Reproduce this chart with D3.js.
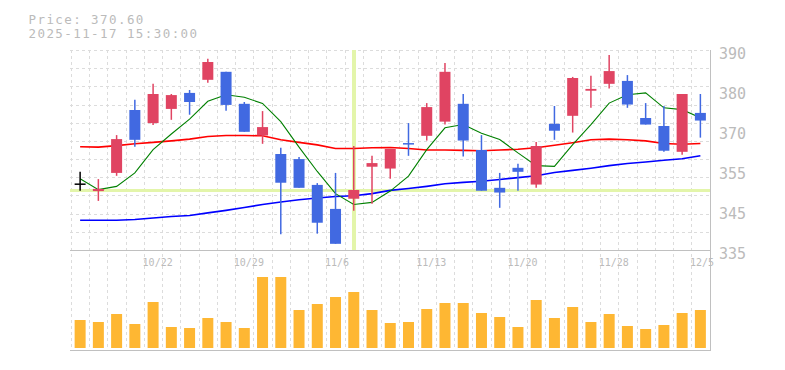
<!DOCTYPE html>
<html><head><meta charset="utf-8">
<script src="https://cdn.jsdelivr.net/npm/d3@7/dist/d3.min.js"></script>
<style>
html,body{margin:0;padding:0;background:#fff;}
svg{display:block;}
</style></head><body>
<svg id="chart" width="785" height="370"></svg>
<script>
// ---- data ----
const dates = ["10/16","10/17","10/20","10/21","10/22","10/23","10/24","10/27","10/28","10/29","10/30","10/31",
  "11/4","11/5","11/6","11/7","11/10","11/11","11/12","11/13","11/14","11/17","11/18","11/19","11/20","11/21",
  "11/25","11/26","11/27","11/28","12/1","12/2","12/3","12/4","12/5"];
const openP  = [353.1,351.2,356.2,373.5,369.9,373.8,378.2,381.8,384.0,375.2,366.5,361.4,360.0,352.9,346.3,349.1,357.9,357.4,364.2,366.4,370.3,375.2,362.5,352.1,357.6,353.0,369.7,371.9,378.8,380.7,381.5,371.3,369.1,362.0,372.7];
const highP  = [356.5,354.5,366.6,376.3,380.7,377.9,379.0,387.6,384.0,375.7,373.2,363.1,360.6,353.4,356.2,363.6,360.9,362.8,369.9,375.4,386.4,377.9,366.6,356.2,358.7,364.7,374.6,382.6,382.9,388.6,383.1,375.4,374.6,377.9,377.9];
const lowP   = [351.3,348.5,355.4,363.4,369.4,370.8,372.2,381.0,373.3,367.5,364.2,339.3,352.1,339.5,336.7,345.8,347.7,354.6,360.9,365.1,369.5,360.7,351.3,346.6,351.3,352.1,365.3,367.3,374.1,379.4,374.1,369.5,362.0,361.2,365.9];
const closeP = [353.1,351.8,365.5,365.3,377.9,377.6,375.7,386.7,374.9,367.5,368.8,353.5,352.1,342.5,336.7,351.5,358.9,362.8,363.9,374.3,384.0,365.1,351.3,350.8,356.5,363.6,367.8,382.3,379.3,384.2,375.0,369.5,362.3,377.9,370.6];
const volume = [28,26,34,24,46,21,20,30,26,20,71,71,38,44,51,56,38,25,26,39,45,45,35,31,21,48,30,41,26,34,22,19,23,35,38];
const ma5  = [354.6,351.6,352.5,356.2,362.6,366.9,371.0,375.9,377.7,377.0,375.3,370.3,363.3,356.6,350.5,347.5,348.1,351.2,355.3,362.6,368.6,369.5,367.1,365.4,361.7,358.2,358.0,364.0,369.5,375.4,377.7,378.2,374.1,373.6,371.4];
const ma25 = [363.4,363.3,363.7,364.2,364.6,365.0,365.5,366.2,366.5,366.5,366.4,365.3,364.6,363.9,362.9,362.9,363.1,363.2,362.9,362.5,362.5,362.4,362.3,362.5,362.7,363.1,363.8,364.5,365.3,365.5,365.3,365.0,364.3,364.1,364.3];
const ma75 = [343.2,343.2,343.2,343.4,343.8,344.2,344.5,345.2,345.9,346.7,347.5,348.2,348.8,349.3,349.7,349.9,350.5,351.4,351.9,352.5,353.2,353.6,353.9,354.4,354.9,355.4,356.3,356.9,357.5,358.2,358.8,359.2,359.7,360.1,360.9];
const yTickValues = [390,379,368,357,346,335];
const yTickLabels = ["390","380","370","355","345","335"];
const xTickDates  = ["10/22","10/29","11/6","11/13","11/20","11/28","12/5"];
const headerLines = ["Price: 370.60","2025-11-17 15:30:00"];
const crossDate = "11/7";
const crossPrice = 351.5;

// ---- drawing ----
const svg = d3.select("#chart");
const FONT = "'DejaVu Sans Mono', monospace";
const GRID = "#dcdcdc", AXIS = "#c0c0c0", TXT = "#bbbbbb";
const UP = "#e04462", DOWN = "#4169e1";

const x = d3.scaleBand().domain(dates).range([71, 709.5]).paddingInner(0).paddingOuter(0);
const cx = d => x(d) + x.bandwidth() / 2;
const y = d3.scaleLinear().domain([335, 390]).range([250, 50]);
const yv = d3.scaleLinear().domain([0, 100]).range([348, 248]);

// grid
const grid = svg.append("g").attr("shape-rendering", "crispEdges")
  .attr("stroke", GRID).attr("stroke-dasharray", "3,3").attr("stroke-width", 1);
grid.selectAll("line.h").data(d3.range(335, 391, 5)).join("line")
  .attr("x1", 70).attr("x2", 710).attr("y1", d => Math.round(y(d)) + 0.5).attr("y2", d => Math.round(y(d)) + 0.5);
grid.selectAll("line.v").data(dates).join("line")
  .attr("x1", d => Math.round(x(d)) + 0.5).attr("x2", d => Math.round(x(d)) + 0.5)
  .attr("y1", 50).attr("y2", 350);

// crosshair
const ch = svg.append("g").attr("stroke", "#e3f5aa").attr("shape-rendering", "crispEdges");
ch.append("line").attr("x1", cx(crossDate)).attr("x2", cx(crossDate)).attr("y1", 50).attr("y2", 250).attr("stroke-width", 4);
ch.append("line").attr("x1", 70).attr("x2", 710).attr("y1", y(crossPrice)).attr("y2", y(crossPrice)).attr("stroke-width", 3);

// moving averages
const lineGen = arr => d3.line().x((d, i) => cx(dates[i])).y(d => y(d))(arr);
svg.append("path").attr("d", lineGen(ma75)).attr("fill", "none").attr("stroke", "#0000ff").attr("stroke-width", 1.6);
svg.append("path").attr("d", lineGen(ma25)).attr("fill", "none").attr("stroke", "#ff0000").attr("stroke-width", 1.6);
svg.append("path").attr("d", lineGen(ma5)).attr("fill", "none").attr("stroke", "#008000").attr("stroke-width", 1.1);

// candles
const cd = dates.map((d, i) => ({d, o: openP[i], h: highP[i], l: lowP[i], c: closeP[i]}));
const col = k => k.c > k.o ? UP : (k.c < k.o ? DOWN : "#000000");
const cg = svg.append("g").selectAll("g").data(cd).join("g");
cg.append("line").attr("x1", k => cx(k.d)).attr("x2", k => cx(k.d))
  .attr("y1", k => y(k.h)).attr("y2", k => y(k.l)).attr("stroke", col).attr("stroke-width", 1.5);
cg.append("rect").attr("x", k => cx(k.d) - 5.5).attr("width", 11)
  .attr("y", k => Math.min(y(k.o), y(k.c)) - (Math.abs(y(k.o) - y(k.c)) < 1.5 ? 0.75 : 0))
  .attr("height", k => Math.max(1.5, Math.abs(y(k.o) - y(k.c))))
  .attr("fill", col);

// volume
svg.append("g").selectAll("rect").data(dates).join("rect")
  .attr("x", d => cx(d) - 5.5).attr("width", 11)
  .attr("y", (d, i) => yv(volume[i])).attr("height", (d, i) => yv(0) - yv(volume[i]))
  .attr("fill", "#feb733");

// borders
const bd = svg.append("g").attr("stroke", AXIS).attr("shape-rendering", "crispEdges");
bd.append("line").attr("x1", 70).attr("x2", 710).attr("y1", 250.5).attr("y2", 250.5);
bd.append("line").attr("x1", 70).attr("x2", 710).attr("y1", 350.5).attr("y2", 350.5);
bd.append("line").attr("x1", 710.5).attr("x2", 710.5).attr("y1", 50).attr("y2", 351);

// right price axis
const ya = svg.append("g").attr("transform", "translate(710,0)")
  .call(d3.axisRight(y).tickValues(yTickValues).tickFormat((d, i) => yTickLabels[i]).tickSize(0).tickPadding(9));
ya.select(".domain").remove();
ya.attr("font-family", FONT).attr("font-size", 15);
ya.selectAll("text").attr("fill", TXT).attr("dy", "0.55em");

// date axis (labels sit inside the volume panel top)
const xa = svg.append("g").attr("transform", "translate(0,266)")
  .call(d3.axisBottom(x).tickValues(xTickDates).tickSize(0).tickPadding(0));
xa.select(".domain").remove();
xa.attr("font-family", FONT).attr("font-size", 10);
xa.selectAll("text").attr("fill", TXT).attr("text-anchor", "start").attr("x", -10.5).attr("y", 0).attr("dy", 0);

// header
svg.append("g").selectAll("text").data(headerLines).join("text")
  .attr("x", 28.5).attr("y", (d, i) => 23.5 + i * 14.5)
  .attr("font-family", FONT).attr("font-size", 12.5).attr("letter-spacing", 1.42).attr("fill", TXT)
  .text(d => d);
</script>
</body></html>
